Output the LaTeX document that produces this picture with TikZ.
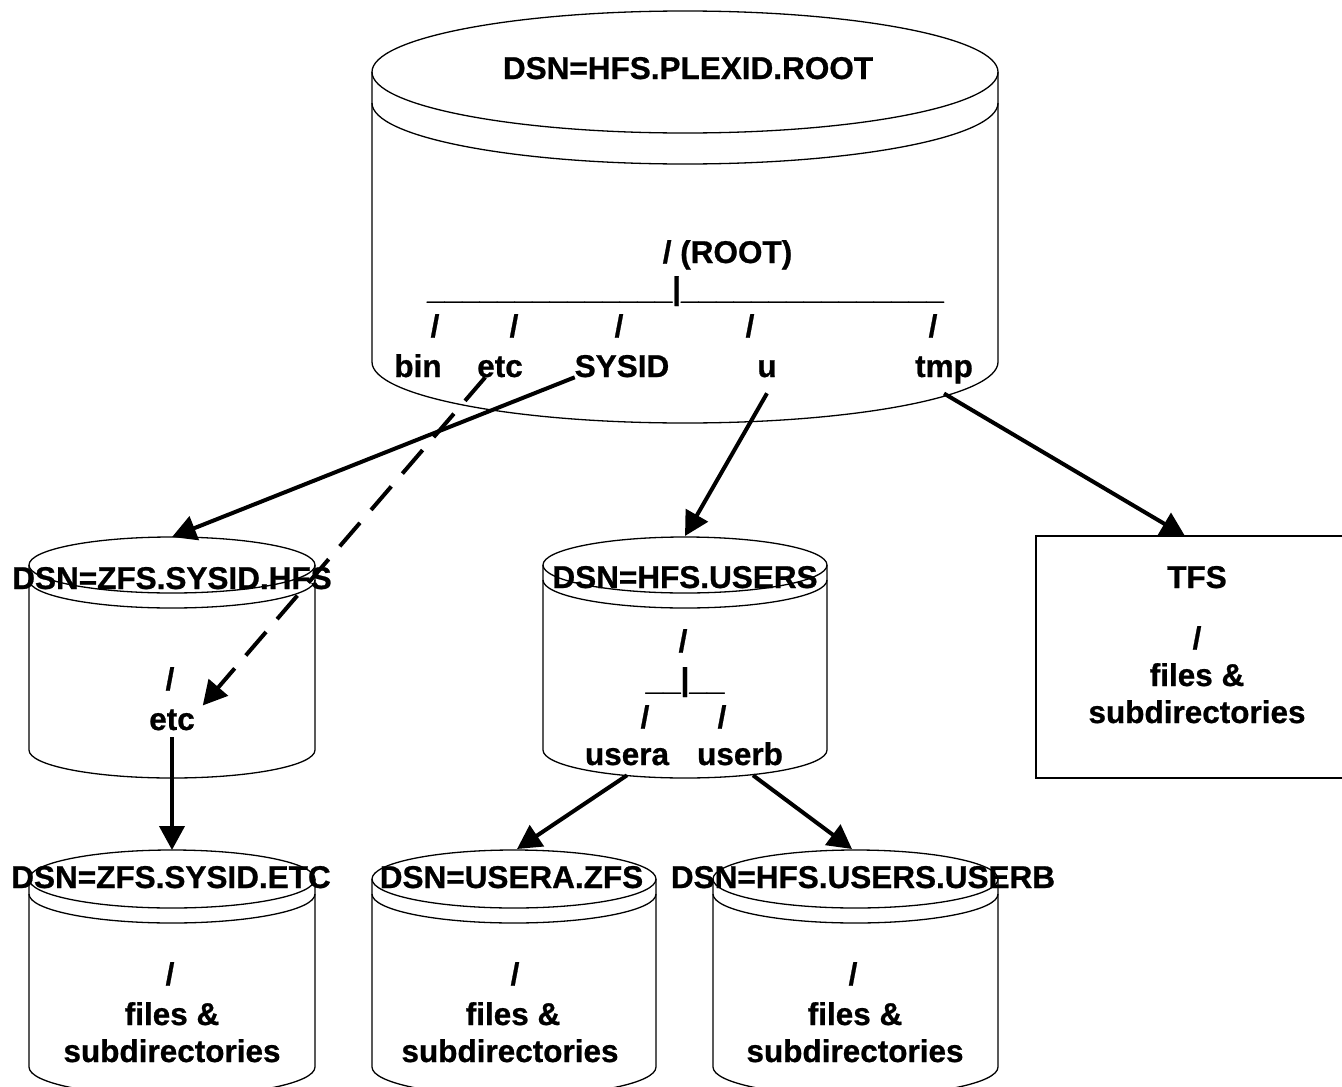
\documentclass[tikz,border=0pt]{standalone}
\usepackage{fontspec}
\setmainfont{Liberation Sans}[BoldFeatures={FakeBold=0.8}]
\usetikzlibrary{arrows.meta,calc}

% disk drum: centre x, centre y of the lid, x radius, y radius, side height, rim offset
\newcommand{\drum}[6]{%
  \draw[drumline] (#1,#2) ellipse[x radius=#3, y radius=#4];
  \draw[drumline] ({#1-#3},{#2+#6}) arc[start angle=180, end angle=0, x radius=#3, y radius=#4];
  \draw[drumline] ({#1-#3},#2) -- ({#1-#3},{#2+#5})
    arc[start angle=180, end angle=0, x radius=#3, y radius=#4] -- ({#1+#3},#2);
}

\begin{document}
\begin{tikzpicture}[x=1pt,y=-1pt,
  drumline/.style={line width=1.3pt},
  lbl/.style={inner sep=0pt, outer sep=0pt, anchor=base,
              font=\bfseries\fontsize{31.5}{36}\selectfont},
  treebar/.style={lbl, font=\bfseries\fontsize{31.5}{36}\selectfont\addfontfeatures{FakeBold=2}},
  arr/.style={line width=4pt, -{Triangle[length=24pt,width=25pt]}},
  dasharr/.style={arr, dash pattern=on 31pt off 17pt}]
\useasboundingbox (0,0) rectangle (1342,1087);

% data set drums
\drum{685}{72}{313}{61}{290}{31}
\drum{172}{565}{143}{28}{185}{15}
\drum{685}{565}{142}{28}{185}{15}
\drum{172}{879}{143}{29}{188}{15}
\drum{514}{879}{142}{29}{188}{15}
\drum{855.5}{879}{142.5}{29}{188}{15}

% temporary file system box
\draw[drumline] (1346,536) -- (1036,536) -- (1036,778) -- (1346,778);

% lid points the mounts point at
\coordinate (aTop) at (172,537);
\coordinate (bTop) at (685,536);
\coordinate (cTop) at (172,850);
\coordinate (dTop) at (517,849);
\coordinate (eTop) at (852,849);
\coordinate (tfsTop) at (1185,536);

% root file system
\node[lbl] (rootdsn) at (688,79) {DSN=HFS.PLEXID.ROOT};
\node[lbl] (rootdir) at (727.5,263) {/ (ROOT)};
\node[treebar] (rootbar) at (685.5,299)
  {\_\_\_\_\_\_\_\_\_\_\_\_\_\_|\_\_\_\_\_\_\_\_\_\_\_\_\_\_\_};
\node[lbl] (s1) at (435,337) {/};
\node[lbl] (s2) at (514,337) {/};
\node[lbl] (s3) at (619,337) {/};
\node[lbl] (s4) at (750,337) {/};
\node[lbl] (s5) at (933,337) {/};
\node[lbl] (bin) at (418,377) {bin};
\node[lbl] (etcm) at (500,377) {etc};
\node[lbl] (sysid) at (622,377) {SYSID};
\node[lbl] (u) at (767,377) {u};
\node[lbl] (tmp) at (944,377) {tmp};

% sysplex-specific file system
\node[lbl] (adsn) at (172,589) {DSN=ZFS.SYSID.HFS};
\node[lbl] (aslash) at (170,690) {/};
\node[lbl] (etcA) at (172,730) {etc};

% users file system
\node[lbl] (bdsn) at (685,588) {DSN=HFS.USERS};
\node[lbl] (bslash) at (683,652) {/};
\node[treebar] (bbar) at (685,690) {\_\_|\_\_};
\node[lbl] (bs1) at (645,728) {/};
\node[lbl] (bs2) at (722,728) {/};
\node[lbl] (usera) at (627,765) {usera};
\node[lbl] (userb) at (740,765) {userb};

% leaf file systems
\node[lbl] (cdsn) at (171,888) {DSN=ZFS.SYSID.ETC};
\node[lbl] (cslash) at (170,985) {/};
\node[lbl] (cfiles) at (172,1025) {files \&};
\node[lbl] (csub) at (172,1062) {subdirectories};

\node[lbl] (ddsn) at (511.5,888) {DSN=USERA.ZFS};
\node[lbl] (dslash) at (515,985) {/};
\node[lbl] (dfiles) at (513,1025) {files \&};
\node[lbl] (dsub) at (510,1062) {subdirectories};

\node[lbl] (edsn) at (863,888) {DSN=HFS.USERS.USERB};
\node[lbl] (eslash) at (853,985) {/};
\node[lbl] (efiles) at (855,1025) {files \&};
\node[lbl] (esub) at (855,1062) {subdirectories};

\node[lbl] (tfs) at (1197,588) {TFS};
\node[lbl] (tslash) at (1197,649) {/};
\node[lbl] (tfiles) at (1197,686) {files \&};
\node[lbl] (tsub) at (1197,723) {subdirectories};

% mount points
\draw[arr] (sysid.south west) -- (aTop);
\draw[dasharr] ([xshift=8pt]etcm.south west) -- ([shift={(8pt,4pt)}]etcA.north east);
\draw[arr] ([yshift=-16pt]u.south) -- (bTop);
\draw[arr] ([yshift=-10pt]tmp.south) -- (tfsTop);
\draw[arr] ([yshift=-7pt]etcA.south) -- (cTop);
\draw[arr] ([yshift=-10pt]usera.south) -- (dTop);
\draw[arr] ([shift={(13pt,-10pt)}]userb.south) -- (eTop);
\end{tikzpicture}
\end{document}
